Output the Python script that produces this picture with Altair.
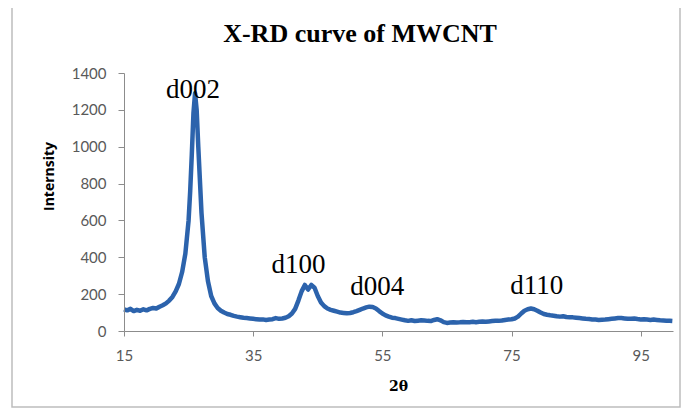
import altair as alt
import pandas as pd

two_theta = [15.0, 15.5, 16.0, 16.5, 17.0, 17.5, 18.0, 18.5, 19.0, 19.5,
             20.0, 20.5, 21.0, 21.5, 22.0, 22.5, 23.0, 23.5, 24.0, 24.5,
             25.0, 25.25, 25.5, 25.75, 26.0, 26.25, 26.5, 26.75, 27.0, 27.5,
             28.0, 28.5, 29.0, 29.5, 30.0, 30.5, 31.0, 31.5, 32.0, 32.5,
             33.0, 33.5, 34.0, 34.5, 35.0, 35.5, 36.0, 36.5, 37.0, 37.5,
             38.0, 38.5, 39.0, 39.5, 40.0, 40.5, 41.0, 41.5, 42.0, 42.5,
             43.0, 43.5, 44.0, 44.5, 45.0, 45.5, 46.0, 46.5, 47.0, 47.5,
             48.0, 48.5, 49.0, 49.5, 50.0, 50.5, 51.0, 51.5, 52.0, 52.5,
             53.0, 53.5, 54.0, 54.5, 55.0, 55.5, 56.0, 56.5, 57.0, 57.5,
             58.0, 58.5, 59.0, 59.5, 60.0, 60.5, 61.0, 61.5, 62.0, 62.5,
             63.0, 63.5, 64.0, 64.5, 65.0, 65.5, 66.0, 66.5, 67.0, 67.5,
             68.0, 68.5, 69.0, 69.5, 70.0, 70.5, 71.0, 71.5, 72.0, 72.5,
             73.0, 73.5, 74.0, 74.5, 75.0, 75.5, 76.0, 76.5, 77.0, 77.5,
             78.0, 78.5, 79.0, 79.5, 80.0, 80.5, 81.0, 81.5, 82.0, 82.5,
             83.0, 83.5, 84.0, 84.5, 85.0, 85.5, 86.0, 86.5, 87.0, 87.5,
             88.0, 88.5, 89.0, 89.5, 90.0, 90.5, 91.0, 91.5, 92.0, 92.5,
             93.0, 93.5, 94.0, 94.5, 95.0, 95.5, 96.0, 96.5, 97.0, 97.5,
             98.0, 98.5, 99.0, 99.5, 99.9]

intensity = [118, 112, 120, 108, 115, 110, 118, 112, 120, 125,
             122, 132, 140, 150, 165, 185, 215, 255, 320, 420,
             600, 760, 960, 1180, 1290, 1200, 1000, 820, 640, 400,
             270, 190, 150, 125, 110, 100, 92, 88, 82, 78,
             75, 72, 70, 68, 66, 64, 62, 63, 60, 62,
             64, 70, 66, 68, 72, 80, 95, 120, 165, 215,
             250, 225, 250, 235, 190, 155, 135, 122, 115, 110,
             105, 100, 98, 96, 98, 102, 108, 115, 122, 128,
             132, 130, 122, 108, 95, 85, 78, 72, 70, 66,
             62, 58, 55, 58, 54, 56, 58, 57, 55, 54,
             60, 64, 58, 48, 44, 46, 48, 46, 47, 49,
             47, 48, 50, 48, 50, 52, 50, 52, 54, 56,
             55, 57, 60, 62, 64, 68, 78, 95, 110, 118,
             122, 118, 110, 100, 92, 88, 85, 83, 80, 78,
             80, 76, 75, 74, 72, 70, 68, 66, 65, 63,
             62, 60, 61, 62, 64, 66, 68, 70, 70, 68,
             66, 67, 68, 65, 63, 64, 62, 60, 62, 60,
             58, 57, 56, 55, 54]

peak_labels = ["d002", "d100", "d004", "d110"]
peak_x = [25.7, 42.0, 54.2, 78.9]
peak_y = [1308, 358, 239, 244]

x_ticks = [15, 35, 55, 75, 95]
y_ticks = [0, 200, 400, 600, 800, 1000, 1200, 1400]

chart_title = ["X-RD curve of MWCNT"]

df = pd.DataFrame({"x": two_theta, "y": intensity})
lab = pd.DataFrame({"label": peak_labels, "x": peak_x, "y": peak_y})

xscale = alt.Scale(domain=[15, 100], nice=False, zero=False)
yscale = alt.Scale(domain=[0, 1400], nice=False)

common = dict(grid=False, zindex=1, domainColor="#8c8c8c", tickColor="#8c8c8c",
              labelFont="Lato", labelFontSize=15, labelColor="#595959",
              labelOverlap=False, labelFlush=False, format="d",
              titleFontWeight="bold", titleColor="#000000")

xaxis = alt.Axis(values=x_ticks, title="2θ", labelPadding=12, tickSize=5,
                 titleX=274, titleY=55, titleBaseline="middle", titleFontSize=14,
                 titleFont="DejaVu Serif", **common)
yaxis = alt.Axis(values=y_ticks, title="Internsity", labelPadding=12, tickSize=6,
                 titleX=-75, titleY=103, titleAlign="center", titleBaseline="middle",
                 titleFontSize=14, titleFont="Open Sans", **common)

line = alt.Chart(df).mark_line(color="#2C63AC", strokeWidth=4.5, strokeJoin="round").encode(
    x=alt.X("x:Q", scale=xscale, axis=xaxis),
    y=alt.Y("y:Q", scale=yscale, axis=yaxis),
)

frame = alt.Chart(pd.DataFrame({"a": [0]})).mark_rect(
    fillOpacity=0, stroke="#bdbdbd", strokeWidth=1.5
).encode(
    x=alt.value(-112), x2=alt.value(556), y=alt.value(-69), y2=alt.value(334)
)

title = alt.Chart(pd.DataFrame({"t": chart_title})).mark_text(
    font="Liberation Serif", fontSize=26, fontWeight="bold", color="#000000",
    align="center", baseline="middle"
).encode(x=alt.value(236), y=alt.value(-39), text="t:N")

texts = alt.Chart(lab).mark_text(
    font="Liberation Serif", fontSize=27, color="#000000", baseline="middle", align="center"
).encode(
    x=alt.X("x:Q", scale=xscale, axis=xaxis),
    y=alt.Y("y:Q", scale=yscale, axis=yaxis),
    text="label:N",
)

chart = alt.layer(line, texts, title, frame).properties(
    width=549,
    height=258,
    autosize=alt.AutoSizeParams(type="none"),
    padding={"left": 116, "top": 65, "right": 14, "bottom": 78},
).configure_view(stroke=None)

chart.save("out.html", embed_options={"renderer": "svg", "actions": False})
